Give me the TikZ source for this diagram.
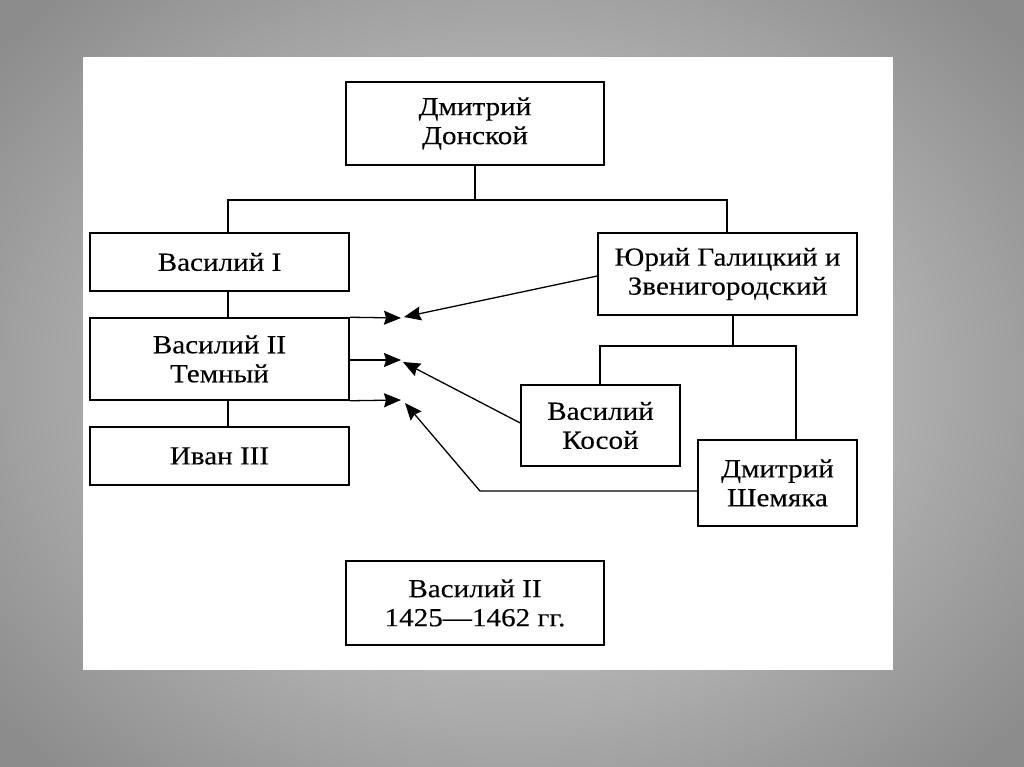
\documentclass[tikz,border=0pt]{standalone}
\usepackage{fontspec}
\setmainfont[FakeStretch=1.12,FakeBold=0.2]{Liberation Serif}
\usetikzlibrary{arrows.meta}
\definecolor{bgin}{RGB}{222,222,222}
\definecolor{bgout}{RGB}{140,140,140}
\tikzset{
  box/.style={draw=black, line width=1.5pt, rectangle, inner sep=0pt, align=center,
    font=\fontsize{26}{29}\selectfont},
  link/.style={draw=black, line width=1.3pt},
  arr/.style={link, -{Stealth[length=17pt,width=14pt,inset=2pt]}}
}
\begin{document}
\begin{tikzpicture}[x=1pt,y=-1pt]
\useasboundingbox (0,0) rectangle (1024,767);
\shade[inner color=bgin, outer color=bgout] (-150,-150) rectangle (1174,917);
\fill[white] (83,57) rectangle (893,670);

\node[box, minimum width=258pt, minimum height=83pt] (dd) at (475,123.5) {Дмитрий\\Донской};
\node[box, minimum width=259pt, minimum height=58pt] (v1) at (219.5,262) {Василий I};
\node[box, minimum width=259pt, minimum height=82pt] (yu) at (727.5,274) {Юрий Галицкий и\\Звенигородский};
\node[box, minimum width=259pt, minimum height=82pt] (v2) at (219.5,359) {Василий II\\Темный};
\node[box, minimum width=259pt, minimum height=58pt] (iv) at (219.5,456) {Иван III};
\node[box, minimum width=159pt, minimum height=81pt] (vk) at (600.5,425.5) {Василий\\Косой};
\node[box, minimum width=159pt, minimum height=86pt] (ds) at (777.5,483) {Дмитрий\\Шемяка};
\node[box, minimum width=258pt, minimum height=84pt] (vd) at (475,603) {Василий II\\1425—1462 гг.};

\coordinate (j1) at (475,200);
\coordinate (j2) at (733,346);
\draw[link] (dd.south) -- (j1);
\draw[link] ([xshift=8.5pt]v1.north) |- (j1) -| ([xshift=-0.5pt]yu.north);
\draw[link] ([xshift=8.5pt]v1.south) -- ([xshift=8.5pt]v2.north);
\draw[link] ([xshift=8.5pt]v2.south) -- ([xshift=8.5pt]iv.north);
\draw[link] ([xshift=5.5pt]yu.south) -- (j2);
\draw[link] ([xshift=-0.5pt]vk.north) |- (j2) -| ([xshift=18.5pt]ds.north);

\coordinate (a1) at (401,318);
\coordinate (a2) at (401,360);
\coordinate (a3) at (401,400);
\coordinate (b1) at (404,317);
\coordinate (b2) at (403,362);
\coordinate (b3) at (405,403);
\coordinate (k3) at (480,491);
\draw[arr] (v2.north east) -- (a1);
\draw[arr] (v2.east |- a2) -- (a2);
\draw[arr] (v2.south east) -- (a3);
\draw[arr] ([yshift=-2pt]yu.west) -- (b1);
\draw[arr] ([yshift=2.5pt]vk.west) -- (b2);
\draw[arr] ([yshift=-8pt]ds.west) -- (k3) -- (b3);
\end{tikzpicture}
\end{document}
